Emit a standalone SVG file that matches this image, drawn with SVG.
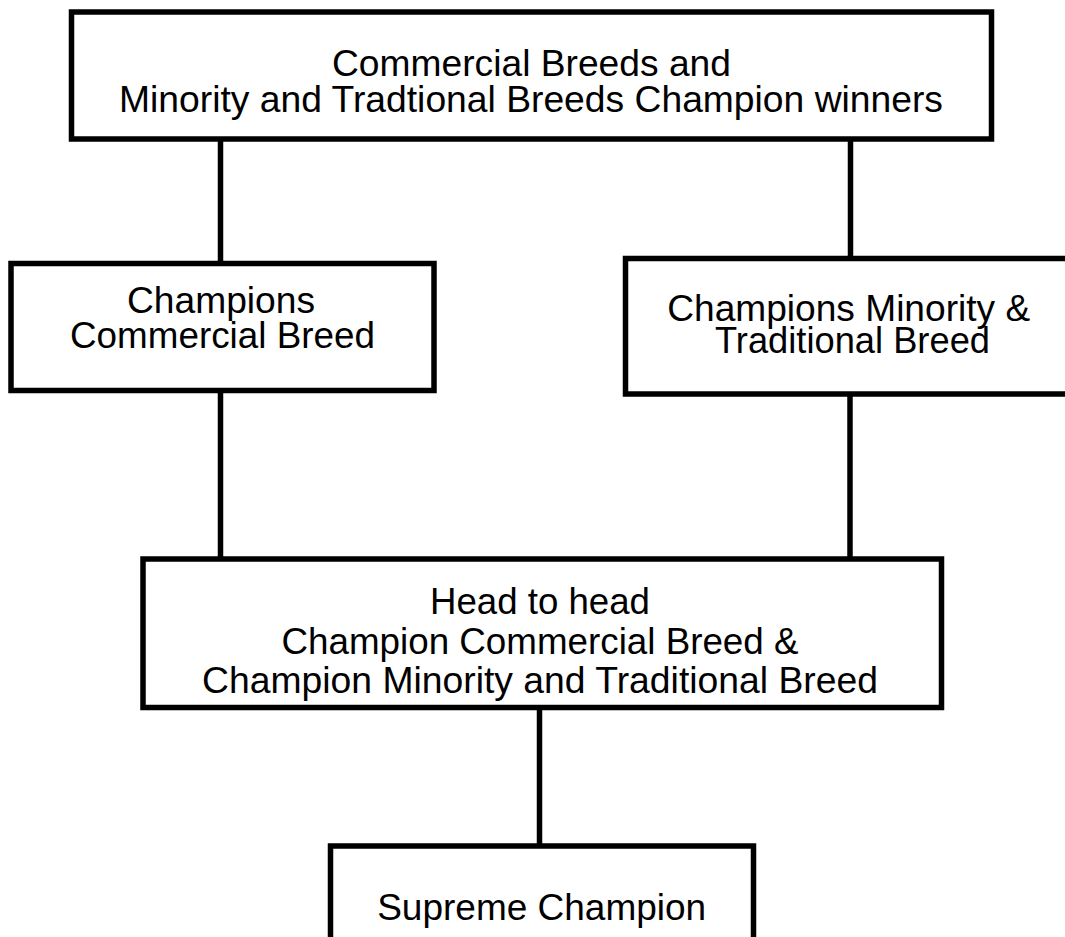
<svg xmlns="http://www.w3.org/2000/svg" width="1065" height="937" viewBox="0 0 1065 937">
<style>
.box{fill:#fff;stroke:#000;stroke-width:5.5}
.ln{stroke:#000;stroke-width:5.5;fill:none}
text{font-family:"Liberation Sans",Arial,sans-serif;font-size:37px;fill:#000;text-anchor:middle}
</style>
<rect width="1065" height="937" fill="#fff"/>
<g id="connectors">
<line class="ln" x1="220.5" y1="139" x2="220.5" y2="263.5"/>
<line class="ln" x1="850.5" y1="139" x2="850.5" y2="258.5"/>
<line class="ln" x1="220.5" y1="390.5" x2="220.5" y2="559"/>
<line class="ln" x1="850" y1="394" x2="850" y2="559"/>
<line class="ln" x1="539.5" y1="707.5" x2="539.5" y2="846"/>
</g>
<g id="top">
<rect class="box" x="71.5" y="12" width="920" height="127"/>
<text x="531.5" y="76" textLength="399" lengthAdjust="spacingAndGlyphs">Commercial Breeds and</text>
<text x="531" y="112" textLength="824" lengthAdjust="spacingAndGlyphs">Minority and Tradtional Breeds Champion winners</text>
</g>
<g id="commercial">
<rect class="box" x="11" y="263.5" width="423" height="127"/>
<text x="221" y="313" textLength="188" lengthAdjust="spacingAndGlyphs">Champions</text>
<text x="222.5" y="348" textLength="305" lengthAdjust="spacingAndGlyphs">Commercial Breed</text>
</g>
<g id="minority">
<rect class="box" x="625.5" y="258.5" width="460" height="135.5"/>
<text x="848.7" y="321" textLength="363" lengthAdjust="spacingAndGlyphs">Champions Minority &amp;</text>
<text x="852.5" y="353" textLength="275" lengthAdjust="spacingAndGlyphs">Traditional Breed</text>
</g>
<g id="headtohead">
<rect class="box" x="143" y="559" width="798.5" height="148.5"/>
<text x="540" y="614" textLength="220" lengthAdjust="spacingAndGlyphs">Head to head</text>
<text x="540" y="653.5" textLength="517" lengthAdjust="spacingAndGlyphs">Champion Commercial Breed &amp;</text>
<text x="540" y="693" textLength="676" lengthAdjust="spacingAndGlyphs">Champion Minority and Traditional Breed</text>
</g>
<g id="supreme">
<rect class="box" x="330.5" y="846" width="423" height="130"/>
<text x="541.7" y="920" textLength="329" lengthAdjust="spacingAndGlyphs">Supreme Champion</text>
</g>
</svg>
